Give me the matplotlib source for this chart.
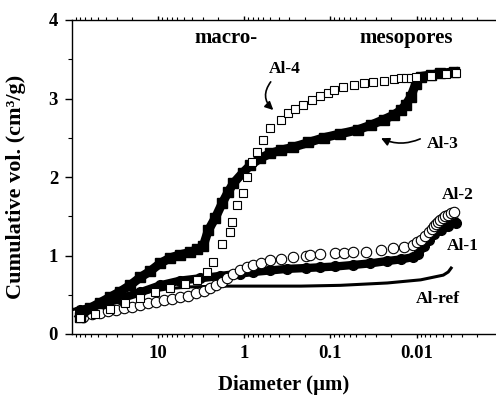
import numpy as np
import matplotlib.pyplot as plt
from matplotlib.ticker import FixedLocator, FixedFormatter, LogLocator, NullFormatter, MultipleLocator

plt.rcParams['font.family'] = ['Liberation Serif', 'DejaVu Serif']
plt.rcParams['font.weight'] = 'bold'

# pore diameter (um) and cumulative volume (cm3/g)
d_ref = [100, 61.8, 36.1, 21.2, 12.4, 7.25, 4.25, 1.90, 0.65, 0.22, 0.0766, 0.0219, 0.00898, 0.00491, 0.00430, 0.00398]
v_ref = [0.31, 0.36, 0.42, 0.48, 0.54, 0.58, 0.60, 0.61, 0.61, 0.61, 0.62, 0.65, 0.69, 0.75, 0.79, 0.84]

d_al1 = [80.7, 47.2, 27.7, 16.2, 9.48, 5.55, 3.25, 1.90, 1.11, 0.786, 0.499, 0.316, 0.195, 0.131, 0.0875,
         0.0541, 0.0344, 0.0219, 0.0153, 0.0109, 0.00952, 0.00830, 0.00725, 0.00634, 0.00528, 0.00436, 0.00352]
v_al1 = [0.30, 0.37, 0.45, 0.53, 0.62, 0.68, 0.71, 0.74, 0.77, 0.79, 0.81, 0.83, 0.84, 0.85, 0.86,
         0.88, 0.90, 0.93, 0.95, 0.98, 1.02, 1.12, 1.20, 1.27, 1.33, 1.38, 1.42]

d_al2 = [74.5, 58.5, 47.2, 38.1, 30.8, 24.8, 20.0, 16.2, 13.1, 10.5, 8.51, 6.87, 5.55, 4.48, 3.61, 2.92,
         2.48, 2.12, 1.80, 1.58, 1.34, 1.11, 0.923, 0.786, 0.634, 0.499, 0.372, 0.269, 0.195, 0.171, 0.131,
         0.0875, 0.0706, 0.0541, 0.0392, 0.0262, 0.0190, 0.0142, 0.0111, 0.0100, 0.00898, 0.00807,
         0.00725, 0.00670, 0.00634, 0.00601, 0.00570, 0.00541, 0.00499, 0.00472, 0.00436, 0.00403, 0.00372]
v_al2 = [0.22, 0.25, 0.27, 0.29, 0.31, 0.33, 0.35, 0.37, 0.39, 0.41, 0.43, 0.45, 0.47, 0.49, 0.52, 0.55,
         0.58, 0.62, 0.66, 0.71, 0.76, 0.82, 0.85, 0.88, 0.91, 0.94, 0.96, 0.98, 1.00, 1.01, 1.02,
         1.03, 1.035, 1.04, 1.05, 1.07, 1.09, 1.11, 1.14, 1.17, 1.20, 1.25,
         1.30, 1.34, 1.37, 1.40, 1.43, 1.45, 1.48, 1.50, 1.52, 1.54, 1.55]

d_al3 = [80.7, 61.8, 47.2, 36.1, 27.7, 21.2, 16.2, 12.4, 9.48, 7.25, 5.55, 4.25, 3.52, 3.00, 2.62, 2.17,
         1.80, 1.54, 1.34, 1.05, 0.85, 0.65, 0.50, 0.38, 0.27, 0.18, 0.12, 0.0766, 0.0485, 0.0343,
         0.0242, 0.0185, 0.0153, 0.0134, 0.0117, 0.0103, 0.0090, 0.0069, 0.0053, 0.0037]
v_al3 = [0.22, 0.33, 0.40, 0.47, 0.54, 0.62, 0.72, 0.80, 0.90, 0.97, 1.01, 1.04, 1.08, 1.12, 1.32, 1.48,
         1.67, 1.81, 1.92, 2.05, 2.15, 2.24, 2.30, 2.34, 2.38, 2.44, 2.50, 2.55, 2.60, 2.66,
         2.73, 2.79, 2.85, 2.92, 3.02, 3.18, 3.28, 3.30, 3.32, 3.34]

d_al4 = [80.7, 54.1, 36.1, 24.2, 16.2, 10.8, 7.25, 4.85, 3.52, 2.69, 2.29, 1.80, 1.45, 1.38, 1.21, 1.05,
         0.923, 0.807, 0.706, 0.601, 0.499, 0.38, 0.31, 0.255, 0.206, 0.162, 0.131, 0.108, 0.092, 0.071,
         0.054, 0.041, 0.032, 0.024, 0.0185, 0.0153, 0.0134, 0.0117, 0.0103, 0.0069, 0.0046, 0.0035]
v_al4 = [0.20, 0.26, 0.32, 0.39, 0.46, 0.53, 0.59, 0.64, 0.69, 0.79, 0.92, 1.15, 1.30, 1.43, 1.64, 1.80,
         2.00, 2.19, 2.32, 2.47, 2.62, 2.73, 2.82, 2.87, 2.92, 2.98, 3.03, 3.07, 3.11, 3.15,
         3.17, 3.20, 3.21, 3.22, 3.25, 3.26, 3.26, 3.26, 3.27, 3.29, 3.31, 3.32]

x_ticks = [10, 1, 0.1, 0.01]
x_labels = ['10', '1', '0.1', '0.01']

fig = plt.figure(figsize=(4.96, 3.95), dpi=100)
ax = fig.add_axes([72 / 496, 61 / 395, 424 / 496, 314 / 395])

ax.plot(d_ref, v_ref, color='black', lw=2.2, zorder=2)
ax.plot(d_al1, v_al1, color='black', lw=6, marker='o', ms=7, mfc='black', mec='black', zorder=3)
ax.plot(d_al2, v_al2, ls='none', marker='o', ms=7.5, mfc='white', mec='black', mew=0.8, zorder=4)
ax.plot(d_al3, v_al3, color='black', lw=6.5, marker='s', ms=7, mfc='black', mec='black', zorder=5)
ax.plot(d_al4, v_al4, ls='none', marker='s', ms=6, mfc='white', mec='black', mew=0.8, zorder=6)

ax.set_xscale('log')
ax.set_xlim(100, 0.0012)
ax.set_ylim(0, 4)

ax.xaxis.set_major_locator(FixedLocator(x_ticks))
ax.xaxis.set_major_formatter(FixedFormatter(x_labels))
ax.xaxis.set_minor_locator(LogLocator(base=10, subs=np.arange(2, 10)))
ax.xaxis.set_minor_formatter(NullFormatter())
ax.yaxis.set_major_locator(MultipleLocator(1))
ax.yaxis.set_minor_locator(MultipleLocator(0.5))

ax.tick_params(which='major', direction='out', length=5, width=1, labelsize=13.5, pad=5)
ax.tick_params(which='minor', direction='out', length=3, width=0.8)
ax.tick_params(axis='x', which='both', top=True)
ax.tick_params(axis='x', which='major', top=True, length=3)
ax.tick_params(axis='x', which='minor', length=2.5)
ax.spines['right'].set_visible(False)
for s in ['left', 'bottom', 'top']:
    ax.spines[s].set_linewidth(1)

ax.set_xlabel('Diameter (µm)', fontsize=15, fontweight='bold', labelpad=9)
ax.set_ylabel('Cumulative vol. (cm³/g)', fontsize=16, fontweight='bold')
ax.yaxis.set_label_coords(-0.108, 0.47)

ax.text(1.62, 3.71, 'macro-', fontsize=15, ha='center', va='baseline')
ax.text(0.01306, 3.71, 'mesopores', fontsize=15, ha='center', va='baseline')

ax.text(0.343, 3.32, 'Al-4', fontsize=12.5, ha='center', va='baseline')
ax.text(0.00499, 2.37, 'Al-3', fontsize=12.5, ha='center', va='baseline')
ax.text(0.00333, 1.72, 'Al-2', fontsize=12.5, ha='center', va='baseline')
ax.text(0.00292, 1.07, 'Al-1', fontsize=12.5, ha='center', va='baseline')
ax.text(0.0057, 0.395, 'Al-ref', fontsize=12.5, ha='center', va='baseline')

ax.annotate('', xy=(0.436, 2.83), xytext=(0.472, 3.24),
            arrowprops=dict(arrowstyle='-|>', connectionstyle='arc3,rad=0.5',
                            color='black', lw=1.2, mutation_scale=12))
ax.annotate('', xy=(0.0277, 2.51), xytext=(0.0085, 2.50),
            arrowprops=dict(arrowstyle='-|>', connectionstyle='arc3,rad=-0.25',
                            color='black', lw=1.2, mutation_scale=12))

fig.savefig('out.png', dpi=100)
